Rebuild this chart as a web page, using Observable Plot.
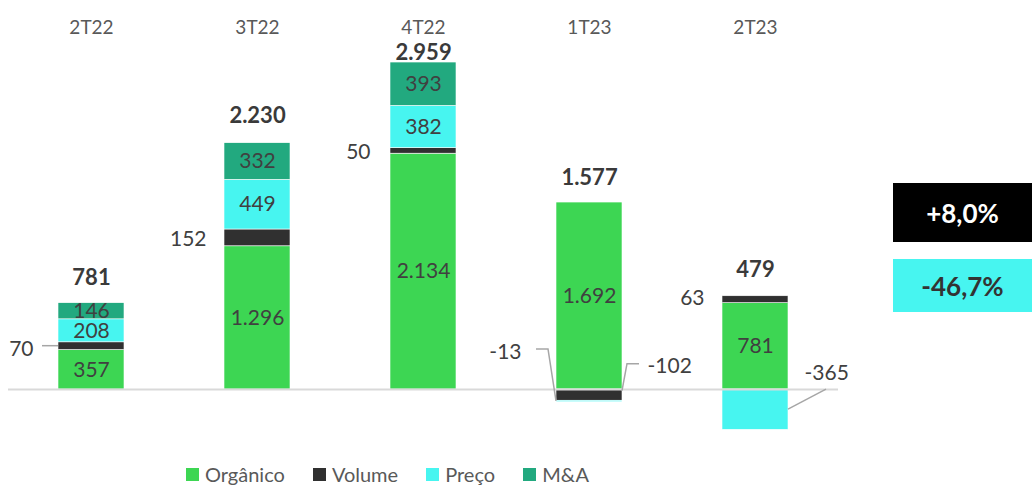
<!DOCTYPE html>
<html><head><meta charset="utf-8">
<script src="https://cdn.jsdelivr.net/npm/d3@7"></script>
<script src="https://cdn.jsdelivr.net/npm/@observablehq/plot@0.6"></script>
<style>
body{margin:0;background:#fff;font-family:Lato,"Open Sans",sans-serif;}
#wrap{position:relative;width:1032px;height:486px;overflow:hidden;}
#chart{position:absolute;left:0;top:0;}
.box{position:absolute;left:893px;width:139px;display:flex;align-items:center;justify-content:center;font-weight:bold;font-size:26px;}
#legend{position:absolute;left:186px;top:461px;height:26px;display:flex;align-items:center;gap:28px;font-size:20px;line-height:22px;color:#595959;}
.item{display:flex;align-items:center;gap:6px;}
.sw{width:13px;height:13px;display:inline-block;}
</style></head>
<body><div id="wrap"><div id="chart"></div></div>
<script>
// ---- data ----
const categories = ["2T22", "3T22", "4T22", "1T23", "2T23"];
const series = ["Orgânico", "Volume", "Preço", "M&A"];
const organico = [357, 1296, 2134, 1692, 781];
const volume = [70, 152, 50, -102, 63];
const preco = [208, 449, 382, -13, -365];
const ma = [146, 332, 393, 0, 0];
const totals = [781, 2230, 2959, 1577, 479];
const growthLabels = ["+8,0%", "-46,7%"];

// ---- styles / layout ----
const colors = ["#3DD653", "#303030", "#47F5F0", "#22A97F"];
const totalDy = [-25, -27, -10, -25, -26];
const outside = [
  {cat:"2T22", series:"Volume", side:"left", dx:-58, dy:3, leader:[[-33,0],[-49,0]]},
  {cat:"3T22", series:"Volume", side:"left", dx:-51, dy:1, leader:null},
  {cat:"4T22", series:"Volume", side:"left", dx:-53, dy:1, leader:null},
  {cat:"2T23", series:"Volume", side:"left", dx:-51, dy:-1, leader:null},
  {cat:"1T23", series:"Preço", side:"left", dx:-68, dy:-49, leader:[[-33,0],[-41,-52],[-53,-52]]},
  {cat:"1T23", series:"Volume", side:"right", dx:58, dy:-29, leader:[[33,-4],[38,-31],[50,-31]]},
  {cat:"2T23", series:"Preço", side:"right", dx:49, dy:-36, leader:[[33,0],[71,-20]]}
];

const fmt = d3.formatLocale({decimal:",", thousands:".", grouping:[3], currency:["",""], minus:"-"}).format(",d");

// ---- stacking ----
const valuesBySeries = [organico, volume, preco, ma];
const segments = [];
const tops = [];
categories.forEach((cat, i) => {
  let pos = 0, neg = 0;
  series.forEach((s, j) => {
    const v = valuesBySeries[j][i];
    if (!v) return;
    let y1, y2;
    if (v >= 0) { y1 = pos; y2 = pos + v; pos = y2; } else { y1 = neg; y2 = neg + v; neg = y2; }
    segments.push({cat, series: s, value: v, y1, y2, mid: (y1 + y2) / 2});
  });
  tops.push({cat, top: pos, total: totals[i]});
});
const isOutside = d => outside.some(o => o.cat === d.cat && o.series === d.series);
const inside = segments.filter(d => !isOutside(d));
const outsideRows = outside.map(o => ({...o, seg: segments.find(d => d.cat === o.cat && d.series === o.series)}));

const leaders = (index, scales) => {
  const x = scales.x, y = scales.y;
  const bw = typeof x.bandwidth === "function" ? x.bandwidth() : scales.scales.x.bandwidth;
  const g = d3.create("svg:g");
  for (const o of outsideRows) {
    if (!o.leader) continue;
    const cx = x(o.cat) + bw / 2, cy = y(o.seg.mid);
    g.append("path")
      .attr("d", d3.line()(o.leader.map(([dx, dy]) => [cx + dx, cy + dy])))
      .attr("fill", "none").attr("stroke", "#a6a6a6").attr("stroke-width", 1.5);
  }
  return g.node();
};

const scaleK = 0.1105, zeroY = 389;
const marks = [
  Plot.barY(segments, {x:"cat", y1:"y1", y2:"y2", fill:"series", stroke:"#fff", strokeWidth:0.6}),
  Plot.ruleY([0], {stroke:"#d9d9d9", strokeWidth:2}),
  Plot.text(inside, {x:"cat", y:"mid", text:d => fmt(d.value), fill:"#404040", fontSize:21}),
  Plot.text(categories, {x:d => d, frameAnchor:"top", lineAnchor:"middle", dy:27, text:d => d, fill:"#595959", fontSize:19}),
  leaders
];
tops.forEach((t, i) => marks.push(Plot.text([t], {x:"cat", y:"top", text:d => fmt(d.total), dy: totalDy[i], fontWeight:"bold", fontSize:22, fill:"#3a3a3a"})));
outsideRows.forEach(o => marks.push(Plot.text([o.seg], {x:"cat", y:"mid", text:d => fmt(d.value), dx:o.dx, dy:o.dy, textAnchor: o.side === "left" ? "end" : "start", fill:"#404040", fontSize:21})));

const plot = Plot.plot({
  width: 1032, height: 460,
  marginLeft: 8, marginRight: 194, marginTop: 0, marginBottom: 0,
  style: {fontFamily: "Lato, 'Open Sans', sans-serif", background: "transparent"},
  x: {domain: categories, paddingInner: 0.6, paddingOuter: 0.3, axis: null},
  y: {domain: [-600, 3300], range: [zeroY + 600 * scaleK, zeroY - 3300 * scaleK], axis: null},
  color: {domain: series, range: colors},
  marks
});
const wrap = document.getElementById("wrap");
document.getElementById("chart").appendChild(plot);

// growth boxes
const b1 = document.createElement("div");
b1.className = "box"; b1.style.top = "183px"; b1.style.height = "59px";
b1.style.background = "#000"; b1.style.color = "#fff"; b1.textContent = growthLabels[0];
const b2 = document.createElement("div");
b2.className = "box"; b2.style.top = "259px"; b2.style.height = "53px";
b2.style.background = colors[2]; b2.style.color = "#333"; b2.textContent = growthLabels[1];
wrap.appendChild(b1); wrap.appendChild(b2);

// legend
const lg = document.createElement("div");
lg.id = "legend";
series.forEach((s, j) => {
  const it = document.createElement("div"); it.className = "item";
  const sw = document.createElement("span"); sw.className = "sw"; sw.style.background = colors[j];
  const tx = document.createElement("span"); tx.textContent = s;
  it.appendChild(sw); it.appendChild(tx); lg.appendChild(it);
});
wrap.appendChild(lg);
</script></body></html>
